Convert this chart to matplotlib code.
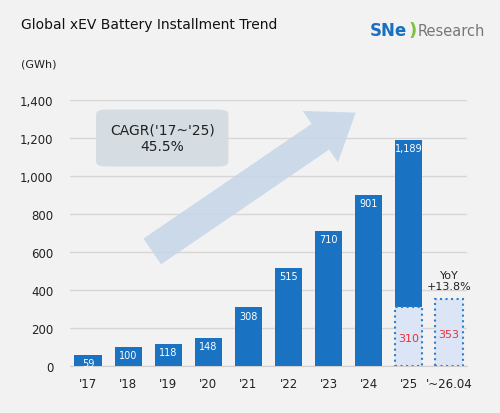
import matplotlib.pyplot as plt
import numpy as np
from matplotlib.patches import FancyBboxPatch, FancyArrowPatch

years = ["'17","'18","'19","'20","'21","'22","'23","'24","'25","'~26.04"]
values = [59,100,118,148,308,515,710,901,1189]
q_2025 = 310
q_2026 = 353
yticks = [0,200,400,600,800,1000,1200,1400]

fig = plt.figure(figsize=(5,4.14), dpi=100, facecolor='#f2f2f2')
ax = fig.add_axes([0.14,0.1135,0.794,0.6425])
ax.set_facecolor('#f2f2f2')
ax.set_xlim(-0.45, 9.45)
ax.set_ylim(0,1400)
ax.set_yticks(yticks)
ax.set_yticklabels([f"{v:,}" for v in yticks], fontsize=8.5, color='#222')
ax.yaxis.grid(True, color='#d6d6d6', lw=1)
ax.set_axisbelow(True)
for s in ['top','right','left']:
    ax.spines[s].set_visible(False)
ax.spines['bottom'].set_color('#cfcfcf')
ax.tick_params(axis='y', length=0, pad=12)
ax.tick_params(axis='x', length=0, pad=8)
ax.set_xticks(range(len(years)))
ax.set_xticklabels(years, fontsize=8.5, color='#222')

# arrow in figure pixel coordinates
arr = FancyArrowPatch((150/500, 160/414), (358/414*414/500, 302/414),
                      transform=fig.transFigure,
                      arrowstyle='simple,head_width=3.2,head_length=2.2,tail_width=1.6',
                      mutation_scale=14, color='#c5d5e8', alpha=0.85, lw=0, zorder=0.5)
fig.patches.append(arr)

x = np.arange(len(values))
ax.bar(x, values, width=0.68, color='#1a72c2', zorder=2)
for xi, v in zip(x, values):
    ax.text(xi, v-16, f"{v:,}", ha='center', va='top', color='white', fontsize=7, zorder=3)

for xi, v in [(8, q_2025), (9, q_2026)]:
    ax.bar(xi, v, width=0.68, color='#dbe5f5', edgecolor='#2f7fd0', linestyle=':', lw=1.5, zorder=3)
    ax.text(xi, v*0.47, str(v), ha='center', va='center', color='#e8303a', fontsize=8, zorder=4)
ax.text(9, q_2026+40, "YoY\n+13.8%", ha='center', va='bottom', fontsize=8, color='#222', linespacing=1.2)

box = FancyBboxPatch((0.2, 1050), 3.3, 300, boxstyle='round,pad=0,rounding_size=0.25',
                     mutation_aspect=100, facecolor='#d5dde3', edgecolor='none', zorder=1.5)
ax.add_patch(box)
ax.text(1.85, 1200, "CAGR('17~'25)\n45.5%", ha='center', va='center', fontsize=10, color='#222', zorder=2)

fig.text(0.042, 0.94, "Global xEV Battery Installment Trend", fontsize=10, color='#111', va='center')
fig.text(0.042, 0.845, "(GWh)", fontsize=8, color='#222', va='center')
fig.text(0.74, 0.925, "SNe", fontsize=12, color='#1a6fc0', fontweight='bold', va='center')
fig.text(0.817, 0.925, ")", fontsize=13, color='#7cc142', fontweight='bold', va='center')
fig.text(0.835, 0.925, "Research", fontsize=10.5, color='#777', va='center')
fig.savefig('out.png', dpi=100, facecolor=fig.get_facecolor())
